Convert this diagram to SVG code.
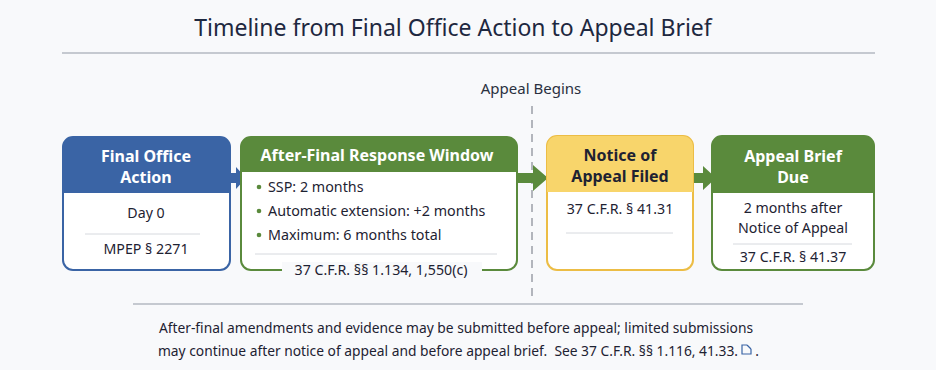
<svg xmlns="http://www.w3.org/2000/svg" width="936" height="370" viewBox="0 0 936 370">
<defs>
<style>
text{font-family:"Noto Sans","Open Sans","DejaVu Sans",sans-serif;}
.title{font-size:23px;fill:#1e2840;text-anchor:middle;}
.hdr{font-size:16px;font-weight:bold;fill:#ffffff;text-anchor:middle;}
.hdrd{font-size:16px;font-weight:bold;fill:#1e2232;text-anchor:middle;}
.body{font-size:14.2px;fill:#1e2232;text-anchor:middle;}
.bul{font-size:14.3px;fill:#1e2232;}
.foot{font-size:13.8px;fill:#1e2232;text-anchor:middle;}
.lbl{font-size:15px;fill:#2a3040;text-anchor:middle;}
.sep{stroke:#d6d9de;stroke-width:1;}
.rule{stroke:#b4b8c2;stroke-width:1.5;}
</style>
</defs>
<rect x="0" y="0" width="936" height="370" fill="#f8f9fb"/>
<text class="title" x="453" y="36">Timeline from Final Office Action to Appeal Brief</text>
<line class="rule" x1="62" y1="53" x2="875" y2="53"/>
<g id="appeal-begins">
<text class="lbl" x="531" y="94">Appeal Begins</text>
<line x1="532" y1="106" x2="532" y2="300" stroke="#9a9ea8" stroke-width="1.5" stroke-dasharray="8,6"/>
</g>
<g id="connectors">
<path d="M220,173 H236 V167 L246,178 L236,189 V183 H220 Z" fill="#3a64a5"/>
<path d="M517,173 H533 V165 L548,178 L533,191 V183 H517 Z" fill="#5a8a3c"/>
<path d="M693,173 H703 V166 L716,178 L703,190 V183 H693 Z" fill="#5a8a3c"/>
</g>
<g id="node-final-office-action">
<rect x="63" y="137" width="167" height="133" rx="10" fill="#ffffff" stroke="#3a64a5" stroke-width="2"/>
<path d="M63,193 V147 A10,10 0 0 1 73,137 H220 A10,10 0 0 1 230,147 V193 Z" fill="#3a64a5"/>
<text class="hdr" x="146" y="162">Final Office</text>
<text class="hdr" x="146" y="183">Action</text>
<text class="body" x="146" y="218">Day 0</text>
<line class="sep" x1="85" y1="234" x2="200" y2="234"/>
<text class="body" x="146" y="254">MPEP § 2271</text>
</g>
<g id="node-after-final">
<rect x="241" y="137" width="276" height="133" rx="10" fill="#ffffff" stroke="#5a8a3c" stroke-width="2"/>
<path d="M241,172 V147 A10,10 0 0 1 251,137 H507 A10,10 0 0 1 517,147 V172 Z" fill="#5a8a3c"/>
<text class="hdr" x="377" y="161">After-Final Response Window</text>
<circle cx="259" cy="187" r="2.3" fill="#5a8a3c"/>
<text class="bul" x="268" y="192">SSP: 2 months</text>
<circle cx="259" cy="211" r="2.3" fill="#5a8a3c"/>
<text class="bul" x="268" y="216">Automatic extension: +2 months</text>
<circle cx="259" cy="235" r="2.3" fill="#5a8a3c"/>
<text class="bul" x="268" y="240">Maximum: 6 months total</text>
<line class="sep" x1="255" y1="254" x2="497" y2="254"/>
<rect x="282" y="262" width="200" height="16" fill="#f8f9fb"/>
<text class="body" x="381" y="275">37 C.F.R. §§ 1.134, 1,550(c)</text>
</g>
<g id="node-notice-of-appeal">
<rect x="547" y="136" width="146" height="134" rx="10" fill="#ffffff" stroke="#ecbd45" stroke-width="2"/>
<path d="M547,192 V146 A10,10 0 0 1 557,136 H683 A10,10 0 0 1 693,146 V192 Z" fill="#f8d56b"/>
<text class="hdrd" x="620" y="161">Notice of</text>
<text class="hdrd" x="620" y="182">Appeal Filed</text>
<text class="body" x="620" y="214">37 C.F.R. § 41.31</text>
<line class="sep" x1="566" y1="233" x2="673" y2="233"/>
</g>
<g id="node-appeal-brief">
<rect x="712" y="136" width="162" height="134" rx="10" fill="#ffffff" stroke="#5a8a3c" stroke-width="2"/>
<path d="M712,193 V146 A10,10 0 0 1 722,136 H864 A10,10 0 0 1 874,146 V193 Z" fill="#5a8a3c"/>
<text class="hdr" x="793" y="162">Appeal Brief</text>
<text class="hdr" x="793" y="183">Due</text>
<text class="body" x="793" y="213">2 months after</text>
<text class="body" x="793" y="233">Notice of Appeal</text>
<line class="sep" x1="733" y1="244" x2="852" y2="244"/>
<text class="body" x="793" y="262">37 C.F.R. § 41.37</text>
</g>
<line class="rule" x1="133" y1="304" x2="803" y2="304"/>
<g id="footer">
<text class="foot" x="456" y="333">After-final amendments and evidence may be submitted before appeal; limited submissions</text>
<text class="foot" x="448" y="356" xml:space="preserve">may continue after notice of appeal and before appeal brief.  See 37 C.F.R. §§ 1.116, 41.33.</text>
<g fill="none" stroke="#3a64a5" stroke-width="1.2">
<path d="M747,345 H742 V354 H751 V349"/>
<path d="M747,345 L751,349"/>
</g>
<text class="foot" x="757" y="356">.</text>
</g>
</svg>
